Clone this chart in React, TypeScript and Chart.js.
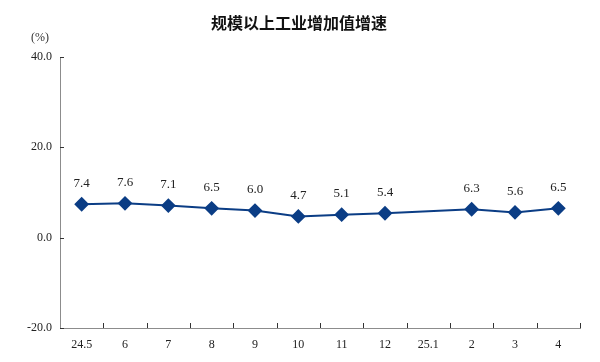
import React, { useEffect, useRef } from "react";
import { Chart, registerables } from "chart.js";

Chart.register(...registerables);

const categories = ["24.5", "6", "7", "8", "9", "10", "11", "12", "25.1", "2", "3", "4"];
const growth: (number | null)[] = [7.4, 7.6, 7.1, 6.5, 6.0, 4.7, 5.1, 5.4, null, 6.3, 5.6, 6.5];
const yTicks = [-20, 0, 20, 40];
const titleText = "规模以上工业增加值增速";
const unitText = "(%)";

const serif = "'Liberation Serif', 'DejaVu Serif', serif";
const cjk = "'Noto Sans CJK SC', sans-serif";
const lineColor = "#0b3d85";
const axisColor = "#8c8c8c";

const decorPlugin = {
  id: "decor",
  afterDraw(chart: any) {
    const ctx = chart.ctx;
    const xs = chart.scales.x;
    const ys = chart.scales.y;
    const area = chart.chartArea;
    ctx.save();
    // title
    ctx.fillStyle = "#111";
    ctx.font = `bold 16px ${cjk}`;
    ctx.textAlign = "center";
    ctx.textBaseline = "middle";
    ctx.fillText(titleText, 299, 23);
    // unit
    ctx.font = `12px ${serif}`;
    ctx.fillStyle = "#333";
    ctx.fillText(unitText, 40, 38);
    // inside ticks
    ctx.strokeStyle = "#333";
    ctx.lineWidth = 1;
    ctx.beginPath();
    yTicks.forEach((v) => {
      const y = Math.round(ys.getPixelForValue(v)) + 0.5;
      ctx.moveTo(area.left, y);
      ctx.lineTo(area.left + 4, y);
    });
    const n = categories.length;
    for (let i = 1; i <= n; i++) {
      const x = i < n
        ? (xs.getPixelForValue(i - 1) + xs.getPixelForValue(i)) / 2
        : xs.getPixelForValue(n - 1) + (xs.getPixelForValue(n - 1) - xs.getPixelForValue(n - 2)) / 2;
      const xx = Math.round(x) + 0.5;
      ctx.moveTo(xx, area.bottom);
      ctx.lineTo(xx, area.bottom - 5);
    }
    ctx.stroke();
    // data labels
    const meta = chart.getDatasetMeta(0);
    ctx.fillStyle = "#222";
    ctx.font = `13px ${serif}`;
    ctx.textAlign = "center";
    ctx.textBaseline = "middle";
    meta.data.forEach((pt: any, i: number) => {
      const v = growth[i];
      if (v === null || v === undefined) return;
      ctx.fillText(v.toFixed(1), pt.x, pt.y - 21);
    });
    ctx.restore();
  },
};

export default function App() {
  const ref = useRef<HTMLCanvasElement | null>(null);
  useEffect(() => {
    if (!ref.current) return;
    const chart = new Chart(ref.current, {
      type: "line",
      data: {
        labels: categories,
        datasets: [
          {
            data: growth,
            borderColor: lineColor,
            backgroundColor: lineColor,
            borderWidth: 2,
            pointStyle: "rectRot",
            pointRadius: 6,
            pointHoverRadius: 6,
            spanGaps: true,
            tension: 0,
          },
        ],
      },
      options: {
        animation: false,
        responsive: false,
        maintainAspectRatio: false,
        events: [],
        layout: { padding: { top: 57, right: 20, left: 0, bottom: 0 } },
        plugins: {
          legend: { display: false },
          title: { display: false },
          tooltip: { enabled: false },
        },
        scales: {
          x: {
            offset: true,
            grid: { display: false, drawTicks: false },
            border: { display: true, color: axisColor, width: 1 },
            ticks: {
              color: "#222",
              font: { family: serif, size: 12 },
              padding: 10,
              maxRotation: 0,
              autoSkip: false,
            },
            afterFit: (s: any) => {
              s.height = 34;
            },
          },
          y: {
            min: -20,
            max: 40,
            afterBuildTicks: (s: any) => {
              s.ticks = yTicks.map((v) => ({ value: v }));
            },
            grid: { display: false, drawTicks: false },
            border: { display: true, color: axisColor, width: 1 },
            ticks: {
              color: "#222",
              font: { family: serif, size: 12 },
              padding: 8,
              callback: (v: any) => Number(v).toFixed(1),
            },
            afterFit: (s: any) => {
              s.width = 60;
            },
          },
        },
      },
      plugins: [decorPlugin],
    });
    return () => chart.destroy();
  }, []);
  return (
    <div style={{ position: "absolute", left: 0, top: 0, width: 600, height: 362, background: "#fff" }}>
      <canvas ref={ref} width={600} height={362} style={{ width: 600, height: 362 }} />
    </div>
  );
}
